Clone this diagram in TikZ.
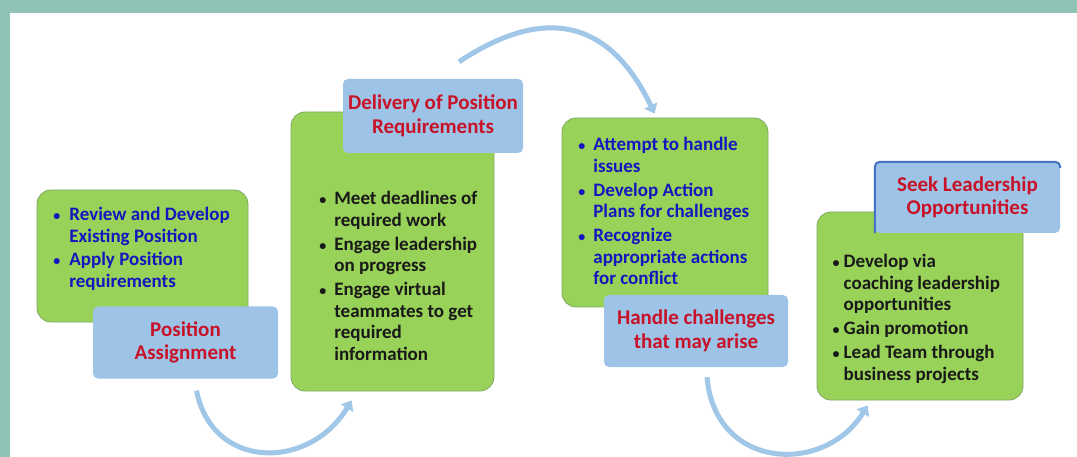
\documentclass[tikz,border=0pt]{standalone}
\usepackage{fontspec}
\setmainfont{Carlito}
\usetikzlibrary{arrows.meta,calc}

\definecolor{frame}{RGB}{142,195,181}
\definecolor{leafgreen}{RGB}{152,210,88}
\definecolor{leafedge}{RGB}{128,168,100}
\definecolor{skyblue}{RGB}{157,195,230}
\definecolor{arrowblue}{RGB}{160,198,232}
\definecolor{edgeblue}{RGB}{68,114,196}
\definecolor{itemblue}{RGB}{22,22,190}
\definecolor{titlered}{RGB}{200,18,40}
\definecolor{itemblack}{RGB}{25,25,25}

\newcommand{\bul}{{\fontsize{14}{14}\selectfont\textbullet}}

\tikzset{
  greenbox/.style={fill=leafgreen, draw=leafedge, line width=0.8pt, rounded corners=14pt, inner sep=0pt},
  titlebox/.style={fill=skyblue, rounded corners=5pt, inner sep=0pt, text=titlered, align=center,
    minimum width=185pt, minimum height=72pt, font=\fontsize{21}{23.5}\selectfont\bfseries},
  items/.style={anchor=north west, inner sep=0pt, font=\fontsize{19}{21.5}\selectfont\bfseries},
  flow/.style={arrowblue, line width=5pt, -{Triangle[width=14pt,length=9pt]}},
}

\begin{document}
\begin{tikzpicture}[x=1pt,y=-1pt]
\useasboundingbox (0,0) rectangle (1077,457);
\fill[frame] (0,0) rectangle (1077,457);
\fill[white] (10,13) rectangle (1077,457);

% position assignment
\node[greenbox, minimum width=211pt, minimum height=132pt] (g1) at (142.5,256) {};
\node[items, text=itemblue] (t1) at (53.2,205.5) {\begin{tabular}{@{}l@{\hspace{9pt}}l@{}}
  \bul & Review and Develop\\
   & Existing Position\\[2pt]
  \bul & Apply Position\\
   & requirements
\end{tabular}};
\node[titlebox] (pa) at (185.5,342.5) {Position\\Assignment};

% delivery
\node[greenbox, minimum width=203pt, minimum height=279pt] (g2) at (392.5,251.5) {};
\node[items, text=itemblack] (t2) at (319.2,189.5) {\begin{tabular}{@{}l@{\hspace{8pt}}l@{}}
  \bul & Meet deadlines of\\
   & required work\\[2.5pt]
  \bul & Engage leadership\\
   & on progress\\[2.5pt]
  \bul & Engage virtual\\
   & teammates to get\\
   & required\\
   & information
\end{tabular}};
\node[titlebox, minimum width=180pt, minimum height=74pt] (dp) at (433,116) {Delivery of Position\\Requirements};

% challenges
\node[greenbox, minimum width=206pt, minimum height=189pt] (g3) at (665,212.5) {};
\node[items, text=itemblue] (t3) at (578.2,135.5) {\begin{tabular}{@{}l@{\hspace{8pt}}l@{}}
  \bul & Attempt to handle\\
   & issues\\[2.5pt]
  \bul & Develop Action\\
   & Plans for challenges\\[2.5pt]
  \bul & Recognize\\
   & appropriate actions\\
   & for conflict
\end{tabular}};
\node[titlebox, minimum width=184pt] (hc) at (696,331) {Handle challenges\\that may arise};

% leadership
\node[greenbox, minimum width=206pt, minimum height=188pt] (g4) at (920,306) {};
\node[items, text=itemblack] (t4) at (832.5,252.5) {\begin{tabular}{@{}l@{\hspace{4pt}}l@{}}
  \bul & Develop via\\
   & coaching leadership\\
   & opportunities\\[2.5pt]
  \bul & Gain promotion\\[2.5pt]
  \bul & Lead Team through\\
   & business projects
\end{tabular}};
\node[titlebox, minimum height=71pt] (sl) at (967.5,197.5) {Seek Leadership\\Opportunities};
\draw[edgeblue, line width=2pt, rounded corners=5pt] (sl.south west) |- (sl.north east) -- ++(0,6);

% curved arrows between the steps
\draw[flow] ([shift={(11,12)}]pa.south) .. controls +(16,80) and +(-42,70) .. ([shift={(61,9)}]g2.south west);
\draw[flow] ([shift={(26,-17)}]dp.north) .. controls +(86,-57) and +(-45,-94) .. ([shift={(93,-4)}]g3.north west);
\draw[flow] ([shift={(11,10)}]hc.south) .. controls +(8,93) and +(-43,70) .. ([shift={(51,5)}]g4.south west);
\end{tikzpicture}
\end{document}
